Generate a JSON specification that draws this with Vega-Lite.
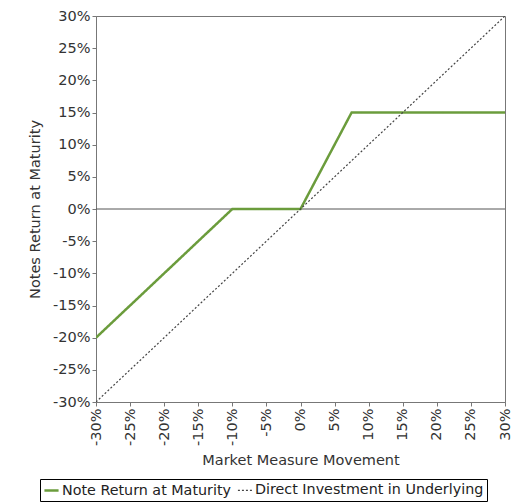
{
  "$schema": "https://vega.github.io/schema/vega-lite/v6.json",
  "width": 409,
  "height": 386,
  "autosize": {"type": "none"},
  "padding": {"left": 96, "top": 16, "right": 7, "bottom": 102},
  "background": "white",
  "config": {
    "font": "DejaVu Sans",
    "view": {"stroke": "#777", "strokeWidth": 1},
    "axis": {
      "grid": false,
      "domainColor": "#777",
      "tickColor": "#777",
      "labelColor": "#333",
      "titleColor": "#333",
      "labelFontSize": 14.5,
      "titleFontSize": 14.5,
      "titleFontWeight": "normal",
      "tickSize": 4,
      "labelPadding": 2,
      "labelOverlap": false
    }
  },
  "datasets": {
    "lines": [
      {"series": "Note Return at Maturity", "x": -30, "y": -20, "o": 1},
      {"series": "Note Return at Maturity", "x": -10, "y": 0, "o": 2},
      {"series": "Note Return at Maturity", "x": 0, "y": 0, "o": 3},
      {"series": "Note Return at Maturity", "x": 7.5, "y": 15, "o": 4},
      {"series": "Note Return at Maturity", "x": 30, "y": 15, "o": 5},
      {"series": "Direct Investment in Underlying", "x": -30, "y": -30, "o": 1},
      {"series": "Direct Investment in Underlying", "x": 30, "y": 30, "o": 2}
    ],
    "zero": [{"y": 0}]
  },
  "layer": [
    {
      "data": {"name": "zero"},
      "mark": {"type": "rule", "color": "#555", "strokeWidth": 1},
      "encoding": {
        "y": {
          "field": "y", "type": "quantitative",
          "scale": {"domain": [-30, 30], "nice": false},
          "axis": {
            "values": [-30, -25, -20, -15, -10, -5, 0, 5, 10, 15, 20, 25, 30],
            "labelExpr": "datum.value + '%'",
            "title": "Notes Return at Maturity",
            "titlePadding": 10
          }
        }
      }
    },
    {
      "data": {"name": "lines"},
      "mark": {"type": "line", "clip": true},
      "encoding": {
        "x": {
          "field": "x", "type": "quantitative",
          "scale": {"domain": [-30, 30], "nice": false},
          "axis": {
            "values": [-30, -25, -20, -15, -10, -5, 0, 5, 10, 15, 20, 25, 30],
            "labelExpr": "datum.value + '%'",
            "labelAngle": 270,
            "labelAlign": "right",
            "labelBaseline": "middle",
            "title": "Market Measure Movement",
            "titlePadding": 8
          }
        },
        "y": {
          "field": "y", "type": "quantitative",
          "scale": {"domain": [-30, 30], "nice": false},
          "axis": {
            "values": [-30, -25, -20, -15, -10, -5, 0, 5, 10, 15, 20, 25, 30],
            "labelExpr": "datum.value + '%'",
            "title": "Notes Return at Maturity",
            "titlePadding": 10
          }
        },
        "order": {"field": "o", "type": "quantitative"},
        "color": {
          "field": "series", "type": "nominal",
          "scale": {"domain": ["Note Return at Maturity", "Direct Investment in Underlying"], "range": ["#6b9c3c", "#444444"]},
          "legend": {
            "title": null,
            "orient": "none",
            "direction": "horizontal",
            "legendX": -56,
            "legendY": 463,
            "strokeColor": "#000",
            "padding": 3,
            "labelFontSize": 14.3,
            "labelColor": "#222",
            "labelLimit": 0,
            "symbolType": "stroke",
            "symbolSize": 200,
            "columnPadding": 4,
            "labelOffset": 2
          }
        },
        "strokeDash": {
          "field": "series", "type": "nominal",
          "scale": {"domain": ["Note Return at Maturity", "Direct Investment in Underlying"], "range": [[1, 0], [2, 2]]},
          "legend": null
        },
        "strokeWidth": {
          "field": "series", "type": "nominal",
          "scale": {"domain": ["Note Return at Maturity", "Direct Investment in Underlying"], "range": [2.5, 1.2]},
          "legend": null
        }
      }
    }
  ]
}
